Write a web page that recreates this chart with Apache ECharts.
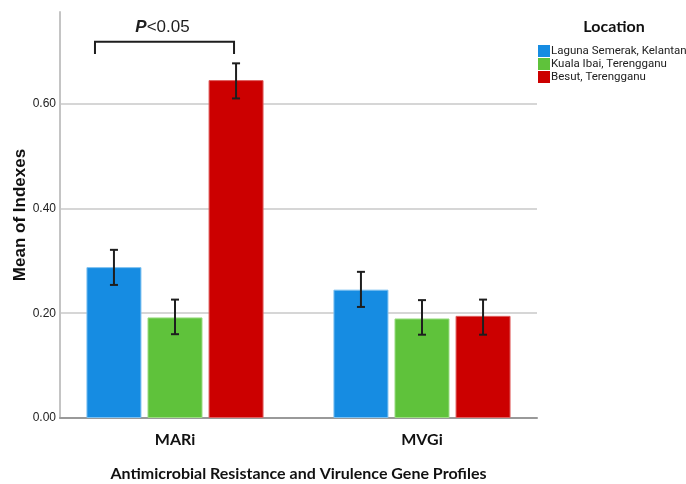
<!DOCTYPE html>
<html><head><meta charset="utf-8">
<script src="https://cdn.jsdelivr.net/npm/echarts@6/dist/echarts.min.js"></script>
<style>html,body{margin:0;padding:0;background:#fff}#c{width:686px;height:484px}</style>
</head><body><div id="c"></div>
<script>
const categories = ['MARi', 'MVGi'];
const locations = ['Laguna Semerak, Kelantan', 'Kuala Ibai, Terengganu', 'Besut, Terengganu'];
const laguna = [0.288, 0.245];
const kuala = [0.192, 0.190];
const besut = [0.645, 0.195];
const lagunaLow = [0.254, 0.212], lagunaHigh = [0.321, 0.279];
const kualaLow = [0.160, 0.159], kualaHigh = [0.226, 0.225];
const besutLow = [0.610, 0.159], besutHigh = [0.677, 0.226];
const yTicks = [0, 0.2, 0.4, 0.6];
const pLabel = 'P<0.05';
const bracketFrom = -0.324, bracketTo = 0.239, bracketTop = 0.718, bracketLeg = 0.695, pTextY = 0.746;

const colors = ['#168ce2', '#5fc23b', '#cc0000'];
const borders = ['#7cc0f0', '#9bdc82', '#e06060'];
const BAR_W = 55, GAP = 0.11;
const values = [laguna, kuala, besut];
const lows = [lagunaLow, kualaLow, besutLow];
const highs = [lagunaHigh, kualaHigh, besutHigh];

const chart = echarts.init(document.getElementById('c'));
const series = [];
locations.forEach((name, i) => {
  series.push({
    name, type: 'bar', barWidth: BAR_W, barGap: (GAP * 100) + '%',
    itemStyle: { color: colors[i], borderColor: borders[i], borderWidth: 1 },
    data: categories.map((c, k) => [k, values[i][k]])
  });
});
locations.forEach((name, i) => {
  series.push({
    type: 'custom', silent: true, z: 5,
    data: categories.map((c, k) => [k, lows[i][k], highs[i][k]]),
    renderItem: (params, api) => {
      const off = (i - 1) * BAR_W * (1 + GAP);
      const lo = api.coord([api.value(0), api.value(1)]);
      const hi = api.coord([api.value(0), api.value(2)]);
      const x = lo[0] + off, cw = 4;
      const st = { stroke: '#1e1e1e', lineWidth: 2 };
      return { type: 'group', children: [
        { type: 'line', shape: { x1: x, y1: lo[1], x2: x, y2: hi[1] }, style: st },
        { type: 'line', shape: { x1: x - cw, y1: lo[1], x2: x + cw, y2: lo[1] }, style: st },
        { type: 'line', shape: { x1: x - cw, y1: hi[1], x2: x + cw, y2: hi[1] }, style: st }
      ]};
    }
  });
});
series.push({
  type: 'custom', silent: true, z: 6,
  data: [[bracketFrom, bracketTo, bracketTop, bracketLeg, pTextY]],
  renderItem: (params, api) => {
    const a = api.coord([api.value(0), api.value(2)]);
    const b = api.coord([api.value(1), api.value(2)]);
    const la = api.coord([api.value(0), api.value(3)]);
    const t = api.coord([(api.value(0) + api.value(1)) / 2, api.value(4)]);
    return { type: 'group', children: [
      { type: 'polyline', shape: { points: [[la[0], la[1]], a, b, [b[0], la[1]]] },
        style: { stroke: '#1e1e1e', lineWidth: 2, fill: null } },
      { type: 'text', x: t[0] - 2, y: t[1], style: {
          text: '{p|P}{r|' + pLabel.slice(1) + '}', align: 'center', verticalAlign: 'middle',
          rich: { p: { fontFamily: 'Liberation Sans', fontSize: 17, fontWeight: 'bold', fontStyle: 'italic', fill: '#1e1e1e' },
                  r: { fontFamily: 'Liberation Sans', fontSize: 17, fill: '#1e1e1e' } } } }
    ]};
  }
});

chart.setOption({
  animation: false,
  title: { text: 'Location', left: 609, top: 14, textAlign: 'center',
    textStyle: { fontFamily: 'Lato', fontWeight: 'bold', fontSize: 16, color: '#111' } },
  legend: { data: locations, orient: 'vertical', left: 538, top: 45, padding: 0, itemWidth: 12, itemHeight: 12, itemGap: 1,
    icon: 'rect', itemStyle: { borderWidth: 0 },
    textStyle: { fontFamily: 'Roboto', fontSize: 11.5, lineHeight: 12, color: '#222', padding: [0, 0, 0, -4] } },
  grid: { left: 60, right: 149, top: 12, bottom: 66, containLabel: false, outerBoundsMode: 'none' },
  xAxis: {
    type: 'value', min: -0.4656, max: 1.4656,
    axisLine: { onZero: false, lineStyle: { color: '#999', width: 2 } },
    axisTick: { show: false }, splitLine: { show: false },
    axisLabel: { customValues: [0, 1], formatter: v => categories[Math.round(v)],
      fontFamily: 'Lato', fontWeight: 'bold', fontSize: 16, color: '#111', margin: 14 },
    name: 'Antimicrobial Resistance and Virulence Gene Profiles', nameLocation: 'middle', nameGap: 48,
    nameTextStyle: { fontFamily: 'Lato', fontWeight: 'bold', fontSize: 16, color: '#111' }
  },
  yAxis: {
    type: 'value', min: 0, max: 0.775,
    axisLine: { show: true, onZero: false, lineStyle: { color: '#c4c4c4', width: 2 } },
    axisTick: { show: false, customValues: yTicks },
    axisLabel: { customValues: yTicks, formatter: v => v.toFixed(2),
      fontFamily: 'Liberation Sans', fontSize: 12, color: '#222', margin: 4 },
    splitLine: { show: true, lineStyle: { color: '#d6d6d6', width: 2 } },
    name: 'Mean of Indexes', nameLocation: 'middle', nameGap: 31, nameMoveOverlap: false,
    nameTextStyle: { fontFamily: 'Liberation Sans', fontWeight: 'bold', fontSize: 17, color: '#111' }
  },
  series
});
</script></body></html>
